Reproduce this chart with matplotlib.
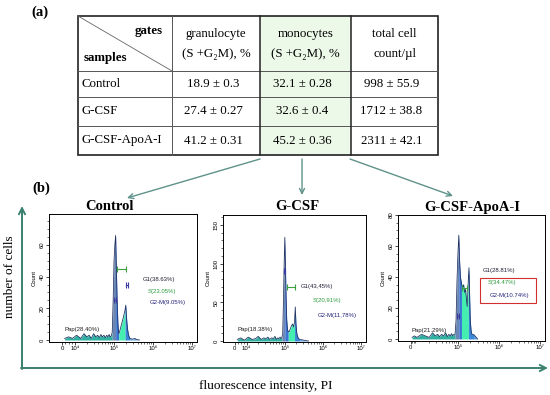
import matplotlib
matplotlib.use("Agg")
import matplotlib.pyplot as plt
import numpy as np
from matplotlib.patches import Rectangle
from matplotlib.ticker import FixedLocator, FixedFormatter, MultipleLocator

plt.rcParams["font.family"] = ["Liberation Sans", "DejaVu Sans"]
SERIF = ["Liberation Serif", "DejaVu Serif"]

# ---- table (a) ----
samples = ["Control", "G-CSF", "G-CSF-ApoA-I"]
gran_mean = [18.9, 27.4, 41.2]
gran_sd = [0.3, 0.27, 0.31]
mono_mean = [32.1, 32.6, 45.2]
mono_sd = [0.28, 0.4, 0.36]
count_mean = [998, 1712, 2311]
count_sd = [55.9, 38.8, 42.1]
col_heads = [("granulocyte", "(S +G\u2082M), %"),
             ("monocytes", "(S +G\u2082M), %"),
             ("total cell", "count/\u00b5l")]

# ---- histograms (b): fluorescence channel, cell count ----
ctrl_x = [2e3, 5e3, 8e3, 1.1e4, 1.4e4, 1.7e4, 2.0e4, 2.3e4, 2.6e4, 3.0e4, 3.4e4,
          3.8e4, 4.2e4, 4.6e4, 5.0e4, 5.5e4, 6.0e4, 6.5e4, 7.0e4, 7.5e4, 8.0e4,
          8.5e4, 9.0e4, 9.5e4, 1.0e5, 1.05e5, 1.10e5, 1.15e5, 1.20e5, 1.26e5,
          1.32e5, 1.38e5, 1.45e5, 1.52e5, 1.60e5, 1.68e5, 1.76e5, 1.84e5, 1.92e5,
          2.0e5, 2.07e5, 2.14e5, 2.22e5, 2.32e5, 2.44e5, 2.58e5, 2.75e5,
          3.0e5, 3.4e5, 3.8e5, 4.5e5]
ctrl_n = [1, 2, 1, 3, 1, 4, 2, 3, 1, 4, 2,
          3, 1.5, 3.5, 2, 3, 1.5, 3, 2, 3.5, 2,
          2.5, 5, 25, 50, 60, 66, 45, 25, 10,
          4, 5, 7, 9, 11, 13, 15, 17, 19,
          22, 16, 11, 7, 4, 2, 1, 0.8,
          0.5, 1, 0.3, 0]
# gate edges: G1 start, G1 peak, S start, G2 start, G2 end
ctrl_gates = [9.0e4, 1.10e5, 1.32e5, 1.92e5, 2.58e5]

gcsf_x = [2e3, 5e3, 8e3, 1.1e4, 1.4e4, 1.7e4, 2.0e4, 2.4e4, 2.8e4, 3.2e4, 3.6e4,
          4.0e4, 4.5e4, 5.0e4, 5.5e4, 6.0e4, 6.5e4, 7.0e4, 7.5e4, 8.0e4, 8.4e4,
          8.8e4, 9.2e4, 9.6e4, 1.0e5, 1.04e5, 1.08e5, 1.12e5, 1.17e5, 1.23e5,
          1.30e5, 1.40e5, 1.50e5, 1.60e5, 1.70e5, 1.80e5, 1.88e5, 1.96e5, 2.06e5,
          2.16e5, 2.30e5, 2.50e5, 2.80e5, 3.2e5, 3.6e5, 4.2e5]
gcsf_n = [2, 4, 1, 5, 2, 3, 6, 2, 4, 3, 5,
          2, 4, 3, 6, 2, 4, 3, 5, 3, 5,
          10, 50, 100, 134, 95, 55, 28, 15, 12,
          12, 16, 20, 22, 18, 25, 44, 22, 10,
          6, 3, 2, 1.5, 1, 0.5, 0]
gcsf_gates = [8.4e4, 1.0e5, 1.23e5, 1.80e5, 2.50e5]

apoa_x = [2e3, 6e3, 1.0e4, 1.3e4, 1.6e4, 2.0e4, 2.4e4, 2.8e4, 3.2e4, 3.6e4, 4.0e4,
          4.5e4, 5.0e4, 5.5e4, 6.0e4, 6.5e4, 7.0e4, 7.5e4, 8.0e4, 8.5e4, 9.0e4,
          9.5e4, 1.0e5, 1.05e5, 1.10e5, 1.15e5, 1.22e5, 1.30e5, 1.38e5, 1.46e5,
          1.54e5, 1.62e5, 1.68e5, 1.74e5, 1.80e5, 1.86e5, 1.92e5, 2.0e5, 2.1e5,
          2.2e5, 2.4e5, 2.6e5, 2.8e5, 3.0e5]
apoa_n = [1, 2, 1, 3, 2, 1, 4, 2, 3, 1.5, 3,
          2, 4, 1.5, 3, 2, 3.5, 2, 3, 3, 12,
          38, 55, 67, 50, 40, 36, 33, 35, 30,
          32, 25, 21, 30, 40, 46, 30, 12, 5,
          3, 3, 2, 1, 0]
apoa_gates = [8.5e4, 1.05e5, 1.22e5, 1.80e5, 2.4e5]

titles = ["Control", "G-CSF", "G-CSF-ApoA-I"]
g1_labels = ["G1(38.63%)", "G1(43,45%)", "G1(28.81%)"]
s_labels = ["S(23.05%)", "S(20,91%)", "S(34.47%)"]
g2_labels = ["G2-M(9.05%)", "G2-M(11,78%)", "G2-M(10.74%)"]
pap_labels = ["Pap(28.40%)", "Pap(18.38%)", "Pap(21.29%)"]

W, H = 550, 395
fig = plt.figure(figsize=(5.5, 3.95), dpi=100)
ov = fig.add_axes([0, 0, 1, 1])
ov.set_xlim(0, W)
ov.set_ylim(H, 0)
ov.axis("off")

# table grid (pixel layout)
col_x = [78, 172, 260, 351, 438]
row_y = [16, 71, 97, 126, 155]
ov.add_patch(Rectangle((col_x[2], row_y[0]), col_x[3] - col_x[2], row_y[-1] - row_y[0],
                       fc="#edf9e8", ec="none"))
for y in row_y[1:-1]:
    ov.plot([col_x[0], col_x[-1]], [y, y], color="#555555", lw=0.7)
ov.plot([col_x[1], col_x[1]], [row_y[0], row_y[-1]], color="#555555", lw=0.7)
for x in col_x[2:4]:
    ov.plot([x, x], [row_y[0], row_y[-1]], color="#222222", lw=1.1)
ov.add_patch(Rectangle((col_x[0], row_y[0]), col_x[-1] - col_x[0], row_y[-1] - row_y[0],
                       fill=False, ec="#222222", lw=1.2))
ov.plot([col_x[0], col_x[1]], [row_y[0], row_y[1]], color="#666666", lw=0.6)

TFS = 9.3
ov.text(40, 12, "(a)", fontsize=10.5, fontweight="bold", family=SERIF, ha="center", va="center")
ov.text(163, 31, "gates", fontsize=TFS, fontweight="bold", family=SERIF, ha="right", va="center")
ov.text(84, 58, "samples", fontsize=TFS, fontweight="bold", family=SERIF, ha="left", va="center")
for j, (h1, h2) in enumerate(col_heads):
    cx = (col_x[j + 1] + col_x[j + 2]) / 2
    ov.text(cx, 34, h1, fontsize=TFS, family=SERIF, ha="center", va="center")
    ov.text(cx, 54, h2, fontsize=TFS, family=SERIF, ha="center", va="center")
for i, s in enumerate(samples):
    cy = (row_y[i + 1] + row_y[i + 2]) / 2
    ov.text(82, cy, s, fontsize=TFS, family=SERIF, ha="left", va="center")
    vals = [f"{gran_mean[i]:g} \u00b1 {gran_sd[i]:g}",
            f"{mono_mean[i]:g} \u00b1 {mono_sd[i]:g}",
            f"{count_mean[i]:g} \u00b1 {count_sd[i]:g}"]
    for j, v in enumerate(vals):
        cx = (col_x[j + 1] + col_x[j + 2]) / 2 - 3
        ov.text(cx, cy, v, fontsize=TFS, family=SERIF, ha="center", va="center")

# arrows from table to panels
arr = dict(arrowstyle="->", color="#5e928a", lw=1.0, shrinkA=0, shrinkB=0, mutation_scale=9)
ov.annotate("", xy=(127, 198), xytext=(260, 159), arrowprops=arr)
ov.annotate("", xy=(302, 195), xytext=(302, 159), arrowprops=arr)
ov.annotate("", xy=(453, 196), xytext=(350, 159), arrowprops=arr)

# big axis arrows
big = dict(arrowstyle="->", color="#3b8070", lw=1.4, shrinkA=0, shrinkB=0, mutation_scale=11)
ov.annotate("", xy=(22, 206), xytext=(22, 369), arrowprops=big)
ov.annotate("", xy=(548, 368), xytext=(21, 368), arrowprops=big)
ov.text(41, 188, "(b)", fontsize=10.5, fontweight="bold", family=SERIF, ha="center", va="center")
ov.text(10, 277, "number of cells", fontsize=9.5, family=SERIF, rotation=90,
        ha="center", va="center")
ov.text(266, 386, "fluorescence intensity, PI", fontsize=9.5, family=SERIF,
        ha="center", va="center")

# panels
boxes = [(49, 197, 214, 342), (223, 366, 215, 342), (398, 545, 215, 341)]
title_x = [109, 297, 472]
xlims = [(-1.0e4, 1.34e7), (-1.0e4, 1.35e7), (-1.48e4, 1.32e7)]
linscales = [0.30, 0.28, 0.13]
ylims = [(-1.26, 79.5), (-1.3, 162.8), (-1.3, 80)]
ymajor = [20, 50, 20]
yminor = [5, 10, 5]
xticks = [[0, 1e4, 1e5, 1e6, 1e7], [0, 1e4, 1e5, 1e6, 1e7], [0, 1e5, 1e6, 1e7]]
tick_names = {0: "0", 1e4: "10\u2074", 1e5: "10\u2075", 1e6: "10\u2076", 1e7: "10\u2077"}
datasets = [(ctrl_x, ctrl_n, ctrl_gates), (gcsf_x, gcsf_n, gcsf_gates),
            (apoa_x, apoa_n, apoa_gates)]
label_pos = [
    [(0.635, 0.477), (0.669, 0.383), (0.682, 0.297), (0.108, 0.086)],
    [(0.545, 0.425), (0.629, 0.315), (0.664, 0.197), (0.10, 0.087)],
    [(0.578, 0.548), (0.612, 0.452), (0.626, 0.349), (0.095, 0.071)],
]
# gate markers: (x0, x1, count, colour)
markers = [
    [(1.02e5, 1.10e5, 25, "#3a3aa0"), (1.20e5, 2.05e5, 45, "#3aa040"), (2.08e5, 2.28e5, 35, "#3a3aa0")],
    [(0.96e5, 1.04e5, 90, "#3a3aa0"), (1.12e5, 1.80e5, 70, "#3aa040")],
    [(0.97e5, 1.04e5, 15, "#3a3aa0"), (1.25e5, 1.70e5, 33, "#3aa040")],
]
fills = ["#2fb0a0", "#6a86b4", "#3a74d2", "#44eeb0", "#3a86d8", "#5aa0e0"]

for k in range(3):
    l, r, t, b = boxes[k]
    ax = fig.add_axes([l / W, 1 - b / H, (r - l) / W, (b - t) / H])
    ax.set_xscale("symlog", linthresh=1e4, linscale=linscales[k])
    x = np.array(datasets[k][0])
    n = np.array(datasets[k][1])
    g = datasets[k][2]
    edges = [x[0]] + list(g) + [x[-1]]
    for c in range(len(edges) - 1):
        m = (x >= edges[c]) & (x <= edges[c + 1])
        ax.fill_between(x[m], 0, n[m], color=fills[c], lw=0)
    ax.plot(x, n, color="#1c2d5e", lw=0.55)
    for x0, x1, cnt, col in markers[k]:
        ax.plot([x0, x1], [cnt, cnt], color=col, lw=0.8, marker="|", ms=4, mew=0.8)
    ax.set_xlim(*xlims[k])
    ax.set_ylim(*ylims[k])
    ax.xaxis.set_major_locator(FixedLocator(xticks[k]))
    ax.xaxis.set_major_formatter(FixedFormatter([tick_names[v] for v in xticks[k]]))
    minors = [v * 10 ** e for e in range(4, 7) for v in range(2, 10)] + [2.5e3, 5e3, 7.5e3]
    ax.xaxis.set_minor_locator(FixedLocator(minors))
    ax.yaxis.set_major_locator(MultipleLocator(ymajor[k]))
    ax.yaxis.set_minor_locator(MultipleLocator(yminor[k]))
    ax.tick_params(which="major", labelsize=4.3, length=2.2, width=0.5, pad=1)
    ax.tick_params(which="minor", length=1.2, width=0.4)
    ax.tick_params(axis="y", labelrotation=90)
    for lbl in ax.get_yticklabels():
        lbl.set_va("center")
    for sp in ax.spines.values():
        sp.set_linewidth(0.7)
    ax.set_ylabel("Count", fontsize=4.3, labelpad=2)
    (gx, gy), (sx, sy), (mx, my), (px, py) = label_pos[k]
    ax.text(gx, gy, g1_labels[k], transform=ax.transAxes, fontsize=4.3, color="#202035")
    ax.text(sx, sy, s_labels[k], transform=ax.transAxes, fontsize=4.3, color="#2a9a3a")
    ax.text(mx, my, g2_labels[k], transform=ax.transAxes, fontsize=4.3, color="#23237a")
    ax.text(px, py, pap_labels[k], transform=ax.transAxes, fontsize=4.3, color="#202020")
    ov.text(title_x[k], 207, titles[k], fontsize=10.5, fontweight="bold", family=SERIF,
            ha="center", va="center")
    if k == 2:
        ax.add_patch(Rectangle((0.558, 0.302), 0.381, 0.198, transform=ax.transAxes,
                               fill=False, ec="#d03030", lw=0.8))

fig.savefig("out.png", dpi=100)
